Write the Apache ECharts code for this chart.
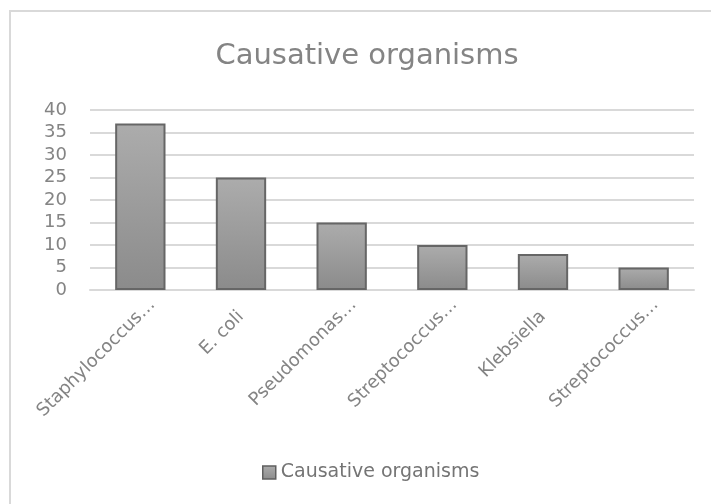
<!DOCTYPE html>
<html>
<head>
<meta charset="utf-8">
<script src="https://cdn.jsdelivr.net/npm/echarts@6/dist/echarts.min.js"></script>
<style>
  html, body { margin: 0; padding: 0; background: #fff; }
  #chart { width: 711px; height: 504px; }
</style>
</head>
<body>
<div id="chart"></div>
<script>
// Organism categories (long names shortened as displayed)
const categories = [
  'Staphylococcus\u2026',
  'E. coli',
  'Pseudomonas\u2026',
  'Streptococcus\u2026',
  'Klebsiella',
  'Streptococcus\u2026'
];
// Number of cases per organism
const cases = [37, 25, 15, 10, 8, 5];
// Y-axis ticks
const yTicks = [0, 5, 10, 15, 20, 25, 30, 35, 40];

const seriesName = 'Causative organisms';
const textGrey = '#848484';
const fontFamily = '"DejaVu Sans", "Noto Sans", sans-serif';
const labelFont = { color: textGrey, fontSize: 18, fontFamily: fontFamily };

const barFill = new echarts.graphic.LinearGradient(0, 0, 0, 1, [
  { offset: 0, color: '#acacac' },
  { offset: 1, color: '#8b8b8b' }
]);

const chart = echarts.init(document.getElementById('chart'), null, { renderer: 'canvas' });
chart.setOption({
  backgroundColor: '#ffffff',
  animation: false,
  // chart-area frame (top and left edges fall inside the canvas)
  graphic: [
    { type: 'line', shape: { x1: 10, y1: 11, x2: 760, y2: 11 },
      style: { stroke: '#d9d9d9', lineWidth: 2 }, silent: true },
    { type: 'line', shape: { x1: 10, y1: 10, x2: 10, y2: 560 },
      style: { stroke: '#d9d9d9', lineWidth: 2 }, silent: true }
  ],
  title: {
    text: seriesName,
    left: 362,
    top: 37,
    textAlign: 'center',
    textStyle: { color: textGrey, fontSize: 29, fontWeight: 'normal', fontFamily: fontFamily }
  },
  legend: {
    data: [seriesName],
    left: 257,
    top: 458,
    itemWidth: 13,
    itemHeight: 13,
    itemGap: 6,
    icon: 'rect',
    textStyle: { color: '#747474', fontSize: 19, fontFamily: fontFamily },
    itemStyle: { borderColor: '#5f5f5f', borderWidth: 1.5 }
  },
  grid: { left: 90, right: 17, top: 110, bottom: 214, containLabel: false },
  xAxis: {
    type: 'category',
    data: categories,
    axisLine: { lineStyle: { color: '#d9d9d9', width: 2 } },
    axisTick: { show: false },
    axisLabel: {
      rotate: 45,
      interval: 0,
      margin: 24,
      color: textGrey,
      fontSize: 18,
      fontFamily: fontFamily,
      // shortened names run a little past their tick
      formatter: function (v) {
        return v.endsWith('\u2026') ? '{cut|' + v + '}' : '{full|' + v + '}';
      },
      rich: {
        cut: Object.assign({ padding: [0, -17, 0, 0] }, labelFont),
        full: Object.assign({}, labelFont)
      }
    }
  },
  yAxis: {
    type: 'value',
    min: yTicks[0],
    max: yTicks[yTicks.length - 1],
    interval: yTicks[1] - yTicks[0],
    axisLine: { show: false },
    axisTick: { show: false },
    splitLine: { lineStyle: { color: '#d9d9d9', width: 2 } },
    axisLabel: {
      margin: 23,
      color: textGrey,
      fontSize: 18,
      fontFamily: fontFamily
    }
  },
  series: [{
    name: seriesName,
    type: 'bar',
    data: cases,
    barWidth: '50%',
    itemStyle: {
      color: barFill,
      borderColor: '#666666',
      borderWidth: 2
    }
  }]
});
</script>
</body>
</html>
